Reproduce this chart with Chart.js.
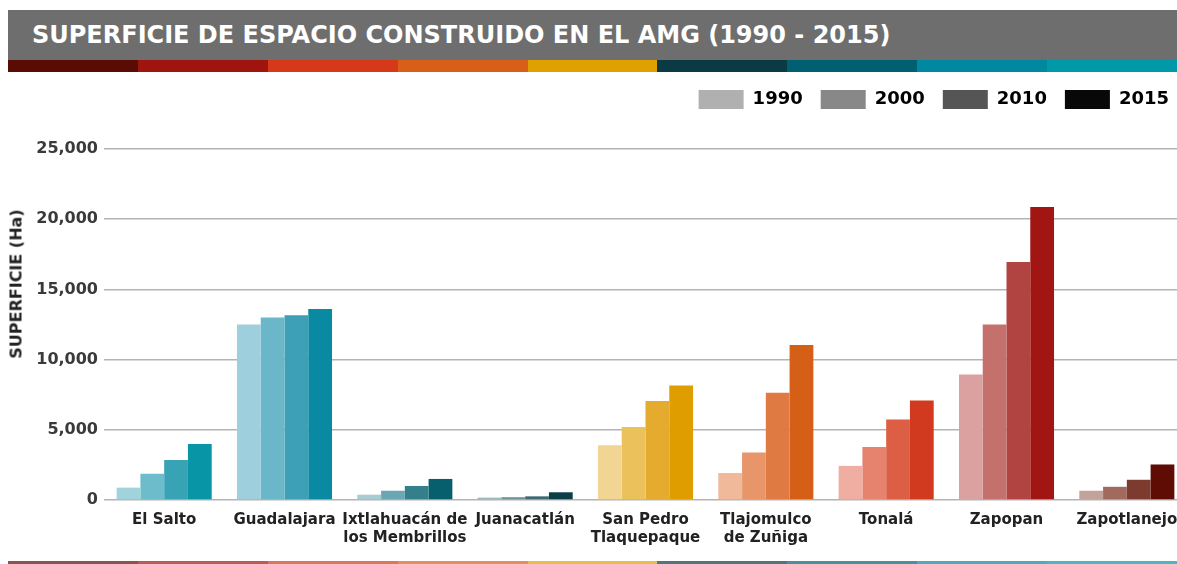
<!DOCTYPE html>
<html>
<head>
  <meta charset="UTF-8">
  <title>Superficie de espacio construido en el AMG</title>
  <script src="https://cdn.jsdelivr.net/npm/chart.js"></script>
  <style>
    body { margin: 0; width: 1177px; height: 564px; overflow: hidden; background: #fff; font-family: "DejaVu Sans", sans-serif; position: relative; }
    #header { position: absolute; left: 8px; top: 10px; width: 1169px; height: 50px; background: #6e6e6e; }
    #header h1 { margin: 0; position: absolute; left: 24px; top: 11px; color: #fff; font-size: 24px; font-weight: bold; white-space: nowrap; }
    .stripes { position: absolute; left: 8px; width: 1169px; display: flex; }
    .stripes div { width: 130px; height: 100%; }
    #top-stripes { top: 60px; height: 12px; }
    #bottom-stripes { top: 561px; height: 3px; opacity: 0.7; }
    #ytitle { position: absolute; left: 16px; top: 284px; transform: translate(-50%, -50%) rotate(-90deg); font-size: 16px; font-weight: bold; color: #222; white-space: nowrap; }
    #wrap { position: absolute; left: 0; top: 68px; width: 1191px; height: 496px; }
  </style>
</head>
<body>
  <div id="header"><h1>SUPERFICIE DE ESPACIO CONSTRUIDO EN EL AMG (1990 - 2015)</h1></div>
  <div class="stripes" id="top-stripes"></div>
  <div id="wrap"><canvas id="chart"></canvas></div>
  <div id="ytitle">SUPERFICIE (Ha)</div>
  <div class="stripes" id="bottom-stripes"></div>

  <script>
    // municipios del AMG
    const municipios = [
      'El Salto', 'Guadalajara', ['Ixtlahuacán de', 'los Membrillos'], 'Juanacatlán',
      ['San Pedro', 'Tlaquepaque'], ['Tlajomulco', 'de Zuñiga'], 'Tonalá', 'Zapopan', 'Zapotlanejo'
    ];
    const years = ['1990', '2000', '2010', '2015'];

    // superficie construida (Ha)
    const sup1990 = [880, 12500, 380, 170, 3900, 1920, 2430, 8940, 660];
    const sup2000 = [1870, 13000, 660, 200, 5200, 3380, 3780, 12500, 940];
    const sup2010 = [2850, 13150, 1000, 260, 7050, 7630, 5740, 16950, 1440];
    const sup2015 = [3990, 13600, 1500, 550, 8150, 11040, 7090, 20870, 2530];

    const yTicks = [0, 5000, 10000, 15000, 20000, 25000];

    // colores por municipio (1990 -> 2015)
    const palette = [
      ['#9fd4dc', '#6cbccb', '#38a3b5', '#0895a6'],
      ['#9dcfdc', '#6ab7c9', '#3da0b6', '#0a89a3'],
      ['#a8ccd3', '#6ba7b3', '#337f8c', '#075e6d'],
      ['#a0b8bc', '#6d9499', '#3c6a70', '#0b3f47'],
      ['#f3d593', '#eac15a', '#e5ab2f', '#e09d00'],
      ['#f0b99a', '#e8956a', '#df7b42', '#d65f18'],
      ['#efaea1', '#e6836f', '#dc5f45', '#d13a1e'],
      ['#dba0a0', '#c4706c', '#b14340', '#a11612'],
      ['#c4a29c', '#a2695f', '#7d3a2f', '#5e0c04']
    ];
    const legendGray = ['#b0b0b0', '#888888', '#555555', '#080808'];
    const stripeColors = ['#5a0c04', '#a01410', '#d6381a', '#d85f17', '#e0a000', '#0a3a44', '#005f70', '#0088a0', '#0099a8'];

    for (const id of ['top-stripes', 'bottom-stripes']) {
      const el = document.getElementById(id);
      stripeColors.forEach(c => {
        const d = document.createElement('div');
        d.style.background = c;
        el.appendChild(d);
      });
    }

    const series = [sup1990, sup2000, sup2010, sup2015];

    const legendSpace = {
      id: 'legendSpace',
      beforeInit(chart) {
        const fit = chart.legend.fit;
        chart.legend.fit = function () {
          fit.bind(chart.legend)();
          this.height = 77;
        };
      }
    };

    new Chart(document.getElementById('chart'), {
      type: 'bar',
      data: {
        labels: municipios,
        datasets: series.map((vals, i) => ({
          label: years[i],
          data: vals,
          backgroundColor: palette.map(p => p[i]),
          borderWidth: 0
        }))
      },
      options: {
        responsive: true,
        maintainAspectRatio: false,
        animation: false,
        layout: { padding: { top: 4, right: 4, left: 0, bottom: 0 } },
        datasets: { bar: { categoryPercentage: 0.79, barPercentage: 1 } },
        plugins: {
          tooltip: { enabled: false },
          legend: {
            position: 'top',
            align: 'end',
            labels: {
              boxWidth: 45,
              boxHeight: 19,
              padding: 18,
              color: '#111',
              font: { family: 'DejaVu Sans', size: 18, weight: 'bold' },
              generateLabels: chart => years.map((y, i) => ({
                text: y,
                fillStyle: legendGray[i],
                strokeStyle: legendGray[i],
                lineWidth: 0,
                datasetIndex: i,
                hidden: !chart.isDatasetVisible(i)
              }))
            }
          }
        },
        scales: {
          x: {
            grid: { display: false },
            border: { display: false },
            ticks: {
              maxRotation: 0,
              autoSkip: false,
              padding: 3,
              color: '#222',
              font: { family: 'DejaVu Sans', size: 15, weight: 'bold' }
            },
            afterFit(scale) { scale.height = 64; }
          },
          y: {
            min: 0,
            max: 25000,
            afterBuildTicks(scale) { scale.ticks = yTicks.map(v => ({ value: v })); },
            grid: { color: '#b4b4b4', lineWidth: 1.5, drawTicks: false },
            border: { display: false },
            ticks: {
              padding: 6,
              color: '#3a3a3a',
              font: { family: 'DejaVu Sans', size: 16, weight: 'bold' },
              callback: v => v.toLocaleString('en-US')
            },
            afterFit(scale) { scale.width = 104; }
          }
        }
      },
      plugins: [legendSpace]
    });
  </script>
</body>
</html>
